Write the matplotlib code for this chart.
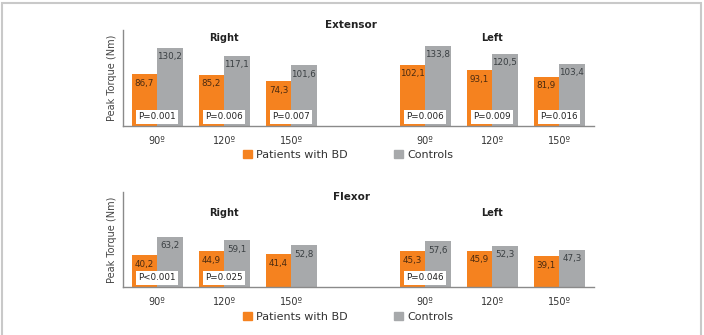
import numpy as np
import matplotlib.pyplot as plt
from matplotlib.patches import Rectangle, Patch

angles = ['90º', '120º', '150º', '90º', '120º', '150º']
ext_bd = [86.7, 85.2, 74.3, 102.1, 93.1, 81.9]
ext_ctrl = [130.2, 117.1, 101.6, 133.8, 120.5, 103.4]
ext_p = ['P=0.001', 'P=0.006', 'P=0.007', 'P=0.006', 'P=0.009', 'P=0.016']
flx_bd = [40.2, 44.9, 41.4, 45.3, 45.9, 39.1]
flx_ctrl = [63.2, 59.1, 52.8, 57.6, 52.3, 47.3]
flx_p = ['P<0.001', 'P=0.025', '', 'P=0.046', '', '']

orange = '#f5821f'
grey = '#a7a9ab'
x = np.array([0, 1, 2, 4, 5, 6])
w = 0.38

fig = plt.figure(figsize=(7.04, 3.35), dpi=100)
fig.patches.append(Rectangle((2/704, -0.1), 699/704, 1.1 - 3/335, transform=fig.transFigure,
                             fill=False, edgecolor='#c9c9c9', lw=1.5, figure=fig))


def fmt(v):
    return f'{v:.1f}'.replace('.', ',')


def panel(rect, bd, ctrl, pvals, ymax, title, title_y, side_y):
    ax = fig.add_axes(rect)
    ax.bar(x - w/2, bd, w, color=orange)
    ax.bar(x + w/2, ctrl, w, color=grey)
    for xi, v in zip(x - w/2, bd):
        ax.annotate(fmt(v), (xi, v), xytext=(0, -6.5), textcoords='offset points',
                    ha='center', va='center', fontsize=6.3, color='#4a2a10')
    for xi, v in zip(x + w/2, ctrl):
        ax.annotate(fmt(v), (xi, v), xytext=(0, -6.5), textcoords='offset points',
                    ha='center', va='center', fontsize=6.3, color='#3a3f42')
    for xi, p in zip(x, pvals):
        if p:
            ax.annotate(p, (xi, 0), xytext=(0, 6.5), textcoords='offset points',
                        ha='center', va='center', fontsize=6.3, color='#222222',
                        bbox=dict(boxstyle='square,pad=0.25', fc='white', ec='none'))
    ax.set_xlim(-0.51, 6.52)
    ax.set_ylim(0, ymax)
    ax.set_xticks(x)
    ax.set_xticklabels(angles, fontsize=7, color='#333333')
    ax.tick_params(axis='x', length=0, pad=7)
    ax.set_yticks([])
    for s in ['top', 'right']:
        ax.spines[s].set_visible(False)
    for s in ['left', 'bottom']:
        ax.spines[s].set_color('#8a8a8a')
        ax.spines[s].set_linewidth(1.0)
    ax.set_ylabel('Peak Torque (Nm)', fontsize=7, color='#444444', labelpad=4)
    fig.text(351/704, title_y, title, ha='center', va='center', fontsize=7.5,
             fontweight='bold', color='#222222')
    ax.text(1, side_y, 'Right', ha='center', va='center', fontsize=7, fontweight='bold', color='#222222')
    ax.text(5, side_y, 'Left', ha='center', va='center', fontsize=7, fontweight='bold', color='#222222')
    return ax


panel([123/704, (335-126)/335, 471/704, 96/335], ext_bd, ext_ctrl, ext_p, 160,
      'Extensor', 1 - 25/335, 146)
panel([123/704, (335-287)/335, 471/704, 95/335], flx_bd, flx_ctrl, flx_p, 120,
      'Flexor', 1 - 197/335, 94)

for ly in [155, 317]:
    handles = [Patch(color=orange, label='Patients with BD'), Patch(color=grey, label='Controls')]
    fig.legend(handles=handles, loc='center', bbox_to_anchor=(348/704, 1 - ly/335), ncol=2,
               frameon=False, fontsize=8, handlelength=0.8, handleheight=0.8,
               handletextpad=0.35, columnspacing=4.2, labelcolor='#333333')

fig.savefig('out.png', dpi=100)
